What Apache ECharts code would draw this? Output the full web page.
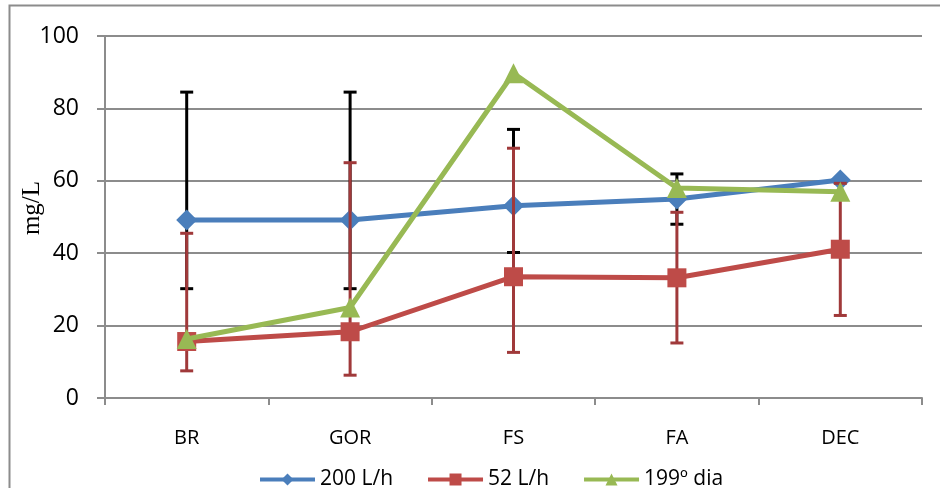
<!DOCTYPE html>
<html>
<head>
<meta charset="utf-8">
<script src="https://cdn.jsdelivr.net/npm/echarts@6/dist/echarts.min.js"></script>
<style>html,body{margin:0;padding:0;background:#fff}#c{width:940px;height:488px}</style>
</head>
<body>
<div id="c"></div>
<script>
var categories = ['BR', 'GOR', 'FS', 'FA', 'DEC'];
var yTicks = [0, 20, 40, 60, 80, 100];
var s200 = [49.2, 49.2, 53.1, 55.0, 60.2];
var s52 = [15.6, 18.3, 33.5, 33.2, 41.1];
var s199 = [16.3, 25.0, 89.7, 58.0, 57.0];
var err200High = [84.5, 84.5, 74.2, 61.9, null];
var err200Low = [30.2, 30.2, 40.2, 48.0, null];
var err52High = [45.5, 65.0, 69.0, 51.3, 59.3];
var err52Low = [7.5, 6.3, 12.6, 15.2, 22.8];
var seriesNames = ['200 L/h', '52 L/h', '199º dia'];

function errData(hi, lo) {
  var out = [];
  for (var i = 0; i < hi.length; i++) {
    if (hi[i] != null && lo[i] != null) out.push([i, hi[i], lo[i]]);
  }
  return out;
}
function errRender(color) {
  return function (params, api) {
    var x = api.value(0);
    var top = api.coord([x, api.value(1)]);
    var bot = api.coord([x, api.value(2)]);
    var hw = 6.5;
    var st = { stroke: color, lineWidth: 3 };
    return {
      type: 'group',
      children: [
        { type: 'line', shape: { x1: top[0], y1: top[1], x2: bot[0], y2: bot[1] }, style: st },
        { type: 'line', shape: { x1: top[0] - hw, y1: top[1], x2: top[0] + hw, y2: top[1] }, style: st },
        { type: 'line', shape: { x1: bot[0] - hw, y1: bot[1], x2: bot[0] + hw, y2: bot[1] }, style: st }
      ]
    };
  };
}

var gray = '#8c8c8c';
var chart = echarts.init(document.getElementById('c'), null, { renderer: 'canvas' });
chart.setOption({
  animation: false,
  backgroundColor: '#fff',
  graphic: [{
    type: 'rect', z: 0, silent: true,
    shape: { x: 9.5, y: 5.5, width: 1200, height: 1200 },
    style: { fill: 'none', stroke: gray, lineWidth: 2 }
  }],
  grid: { left: 105, right: 18, top: 36, bottom: 90 },
  legend: {
    left: 253, top: 464,
    itemWidth: 55, itemHeight: 15, itemGap: 33,
    data: seriesNames,
    lineStyle: { width: 4 },
    textStyle: { fontFamily: 'Open Sans', fontSize: 21, color: '#000' }
  },
  xAxis: {
    type: 'category', data: categories, boundaryGap: true,
    axisLine: { lineStyle: { color: gray, width: 2 } },
    axisTick: { show: true, length: 7, lineStyle: { color: gray, width: 2 } },
    axisLabel: { margin: 30, fontFamily: 'Open Sans', fontSize: 20, color: '#000' },
    splitLine: { show: false }
  },
  yAxis: {
    type: 'value', min: 0, max: 100, interval: 20,
    name: 'mg/L', nameLocation: 'middle', nameGap: 60, nameMoveOverlap: false,
    nameTextStyle: { fontFamily: 'Liberation Serif', fontSize: 25, color: '#000', padding: [0, 0, 0, 18] },
    axisLine: { show: true, lineStyle: { color: gray, width: 2 } },
    axisTick: { show: true, length: 8, lineStyle: { color: gray, width: 2 } },
    axisLabel: { margin: 26, fontFamily: 'Open Sans', fontSize: 23, color: '#000' },
    splitLine: { show: true, lineStyle: { color: gray, width: 2 } }
  },
  series: [
    {
      type: 'custom', name: 'err200', z: 1, silent: true,
      renderItem: errRender('#000000'),
      encode: { x: 0, y: [1, 2] },
      data: errData(err200High, err200Low)
    },
    {
      type: 'line', name: seriesNames[0], z: 2, data: s200,
      symbol: 'diamond', symbolSize: 21,
      lineStyle: { color: '#4a7ebb', width: 5 },
      itemStyle: { color: '#4a7ebb' }
    },
    {
      type: 'custom', name: 'err52', z: 3, silent: true,
      renderItem: errRender('#a0393a'),
      encode: { x: 0, y: [1, 2] },
      data: errData(err52High, err52Low)
    },
    {
      type: 'line', name: seriesNames[1], z: 4, data: s52,
      symbol: 'rect', symbolSize: 19,
      lineStyle: { color: '#be4b48', width: 5 },
      itemStyle: { color: '#be4b48' }
    },
    {
      type: 'line', name: seriesNames[2], z: 5, data: s199,
      symbol: 'triangle', symbolSize: 20,
      lineStyle: { color: '#98b954', width: 5 },
      itemStyle: { color: '#98b954' }
    }
  ]
});
</script>
</body>
</html>
